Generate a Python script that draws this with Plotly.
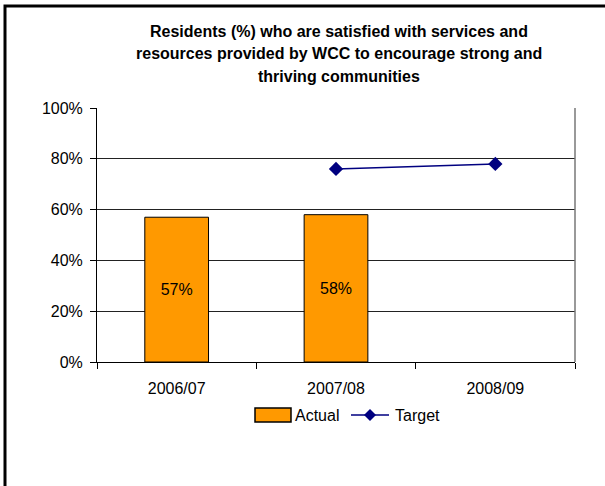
import plotly.graph_objects as go

# Survey data
periods = ["2006/07", "2007/08", "2008/09"]
actual = [57, 58, None]
target = [None, 76, 78]
actual_labels = ["57%", "58%", ""]
y_ticks = [0, 20, 40, 60, 80, 100]
y_tick_labels = ["0%", "20%", "40%", "60%", "80%", "100%"]
title_lines = [
    "Residents (%) who are satisfied with services and",
    "resources provided by WCC to encourage strong and",
    "thriving communities",
]

FONT = "Liberation Sans, Arial, sans-serif"
BAR_COLOR = "#FF9900"
LINE_COLOR = "#000080"

W, H = 605, 486
ML, MR, MT, MB = 97, 30, 108, 124
pw = W - ML - MR
ph = H - MT - MB


def px_x(x):
    """Pixel column -> paper x."""
    return (x - ML) / pw


def px_y(y):
    """Pixel row -> paper y."""
    return (H - MB - y) / ph


fig = go.Figure()

fig.add_trace(go.Bar(
    x=periods, y=actual, name="Actual",
    marker=dict(color=BAR_COLOR, line=dict(color="#000000", width=1)),
    width=0.4,
    text=actual_labels, textposition="inside", insidetextanchor="middle",
    textfont=dict(family=FONT, size=16, color="#000000"),
    hoverinfo="x+y",
))

fig.add_trace(go.Scatter(
    x=periods, y=target, name="Target", mode="lines+markers",
    line=dict(color=LINE_COLOR, width=1.5),
    marker=dict(symbol="diamond", size=11, color=LINE_COLOR),
))

shapes = [
    # outer chart frame
    dict(type="rect", xref="paper", yref="paper",
         x0=px_x(5), x1=px_x(612), y0=px_y(496), y1=px_y(6),
         line=dict(color="#000000", width=3), fillcolor="rgba(0,0,0,0)",
         layer="below"),
    # plot-area right edge
    dict(type="line", xref="paper", yref="paper", x0=1, x1=1, y0=0, y1=1,
         line=dict(color="#777777", width=1.5)),
    # legend: Actual swatch
    dict(type="rect", xref="paper", yref="paper",
         x0=px_x(255), x1=px_x(291), y0=px_y(422), y1=px_y(408),
         line=dict(color="#000000", width=1.5), fillcolor=BAR_COLOR),
    # legend: Target line
    dict(type="line", xref="paper", yref="paper",
         x0=px_x(351), x1=px_x(389), y0=px_y(415), y1=px_y(415),
         line=dict(color=LINE_COLOR, width=1.5)),
]

# legend: Target diamond
cx, cy, r = 370, 415, 6
shapes.append(dict(
    type="path", xref="paper", yref="paper",
    path=(f"M {px_x(cx - r)},{px_y(cy)} L {px_x(cx)},{px_y(cy - r)} "
          f"L {px_x(cx + r)},{px_y(cy)} L {px_x(cx)},{px_y(cy + r)} Z"),
    fillcolor=LINE_COLOR, line=dict(color=LINE_COLOR, width=0),
))

annotations = []
for i, line in enumerate(title_lines):
    annotations.append(dict(
        text=f"<b>{line}</b>", xref="paper", yref="paper",
        x=px_x(338.5), y=px_y(31 + 22.5 * i), xanchor="center", yanchor="middle",
        showarrow=False, font=dict(family=FONT, size=16, color="#000000"),
    ))
for label, x0 in (("Actual", 295), ("Target", 395)):
    annotations.append(dict(
        text=label, xref="paper", yref="paper",
        x=px_x(x0), y=px_y(415), xanchor="left", yanchor="middle",
        showarrow=False, xshift=-2,
        font=dict(family=FONT, size=16, color="#000000"),
    ))

fig.update_layout(
    width=W, height=H,
    margin=dict(l=ML, r=MR, t=MT, b=MB),
    paper_bgcolor="white", plot_bgcolor="white",
    font=dict(family=FONT, size=16, color="#000000"),
    showlegend=False,
    bargap=0.6,
    shapes=shapes,
    annotations=annotations,
    xaxis=dict(
        type="category", showline=True, linecolor="#000000", linewidth=1,
        ticks="outside", tickson="boundaries", ticklen=6, tickcolor="#000000",
        showgrid=False, tickfont=dict(family=FONT, size=16),
        ticklabelstandoff=12,
    ),
    yaxis=dict(
        range=[0, 100], tickvals=y_ticks, ticktext=y_tick_labels,
        showline=True, linecolor="#000000", linewidth=1,
        ticks="outside", ticklen=6, tickcolor="#000000",
        showgrid=True, gridcolor="#222222", gridwidth=1,
        zeroline=False, tickfont=dict(family=FONT, size=16),
        ticklabelstandoff=4,
    ),
)

fig.write_html("out.html")
